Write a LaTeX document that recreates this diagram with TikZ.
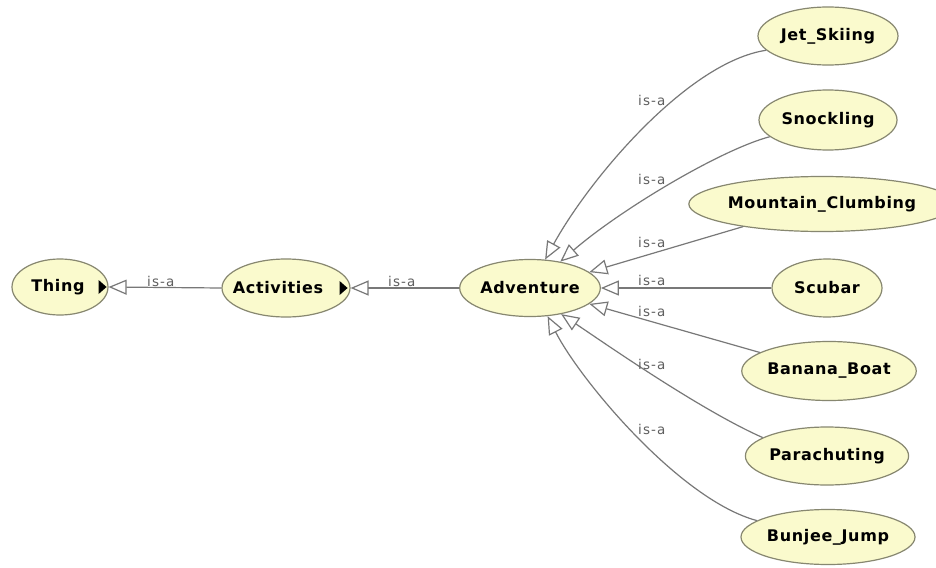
\documentclass[tikz,border=0pt]{standalone}
\usepackage{fontspec}
\setmainfont{DejaVu Sans}
\newfontfamily\nodefont{DejaVu Sans}[LetterSpace=4]
\newfontfamily\lblfont{DejaVu Sans}[LetterSpace=8]
\usetikzlibrary{shapes.geometric,arrows.meta}
\definecolor{fillc}{RGB}{250,250,205}
\definecolor{bordc}{RGB}{135,135,112}
\definecolor{edgec}{RGB}{120,120,120}
\definecolor{lblc}{RGB}{95,95,95}
\tikzset{
  cls/.style={ellipse, draw=bordc, fill=fillc, line width=1.2pt, inner sep=0pt,
    font=\nodefont\bfseries\fontsize{16}{18}\selectfont},
  isa/.style={draw=edgec, line width=1.2pt, -{Triangle[open, length=18pt, width=15pt]}},
  lbl/.style={font=\lblfont\fontsize{13.5}{15}\selectfont, text=lblc, anchor=base west, inner sep=0pt},
  marker/.style={fill=black}
}
\begin{document}
\begin{tikzpicture}[x=1pt,y=-1pt]
\fill[white] (0,0) rectangle (936,567);
\useasboundingbox (0,0) rectangle (936,567);

% nodes
\node[cls, minimum width=96pt, minimum height=56pt] (thing) at (60,287) {};
\node[font=\nodefont\bfseries\fontsize{16}{18}\selectfont, inner sep=0pt] (thingt) at (58,287) {Thing};
\node[cls, minimum width=128pt, minimum height=58pt] (act) at (286,288) {};
\node[font=\nodefont\bfseries\fontsize{16}{18}\selectfont, inner sep=0pt] (actt) at (278,288) {Activities};
\node[cls, minimum width=135pt, minimum height=57pt] (adv) at (530,288) {Adventure};
\node[cls, minimum width=140pt, minimum height=58pt] (jet) at (828,36) {Jet\_Skiing};
\node[cls, minimum width=138pt, minimum height=60pt] (sno) at (828,120) {Snockling};
\node[cls, minimum width=223pt, minimum height=55pt] (mou) at (822,204) {Mountain\_Clumbing};
\node[cls, minimum width=110pt, minimum height=58pt] (scu) at (827,288) {Scubar};
\node[cls, minimum width=172pt, minimum height=59pt] (ban) at (829,371) {Banana\_Boat};
\node[cls, minimum width=159pt, minimum height=58pt] (par) at (827,456) {Parachuting};
\node[cls, minimum width=174pt, minimum height=55pt] (bun) at (828,537) {Bunjee\_Jump};

% expand markers
\fill[marker] ([xshift=-10pt,yshift=7pt]thing.east) -- ([xshift=-10pt,yshift=-7pt]thing.east) -- ([xshift=-2pt]thing.east) -- cycle;
\fill[marker] ([xshift=-11pt,yshift=7pt]act.east) -- ([xshift=-11pt,yshift=-7pt]act.east) -- ([xshift=-3pt]act.east) -- cycle;

% edges
\draw[isa] (act.west) -- (thing.east);
\draw[isa] (adv.west) -- (act.east);
\draw[isa] (scu.west) -- (adv.east);
\draw[isa] (mou.196) -- (adv.15);
\draw[isa] (ban.165) -- (adv.-15);
\draw[isa] (jet.193) .. controls (688,62) and (590,178) .. (adv.62);
\draw[isa] (sno.196) .. controls (720,150) and (620,210) .. (adv.41);
\draw[isa] (par.164) .. controls (700,410) and (600,340) .. (adv.-40);
\draw[isa] (bun.167) .. controls (680,500) and (580,380) .. (adv.-58);

% labels
\node[lbl] (l1) at (147,286) {is-a};
\node[lbl] (l2) at (388,286) {is-a};
\node[lbl] (l3) at (638,106) {is-a};
\node[lbl] (l4) at (638,184) {is-a};
\node[lbl] (l5) at (638,247) {is-a};
\node[lbl] (l6) at (638,285) {is-a};
\node[lbl] (l7) at (638,316) {is-a};
\node[lbl] (l8) at (638,369) {is-a};
\node[lbl] (l9) at (638,434) {is-a};
\end{tikzpicture}
\end{document}
